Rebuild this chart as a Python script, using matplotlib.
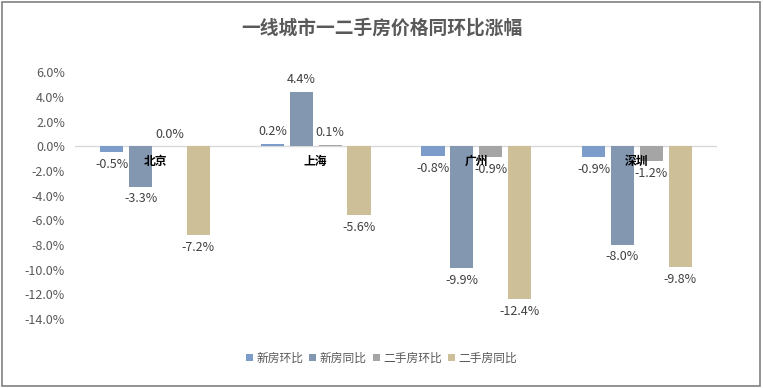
import numpy as np
import matplotlib
matplotlib.use("Agg")
import matplotlib.pyplot as plt
from matplotlib.patches import Rectangle

plt.rcParams["font.family"] = ["Noto Sans CJK SC", "DejaVu Sans"]

# ── Data ──────────────────────────────────────────────────────────────────────
CITIES = ["北京", "上海", "广州", "深圳"]
SERIES = ["新房环比", "新房同比", "二手房环比", "二手房同比"]
NEW_MOM = [-0.5, 0.2, -0.8, -0.9]
NEW_YOY = [-3.3, 4.4, -9.9, -8.0]
SEC_MOM = [0.0, 0.1, -0.9, -1.2]
SEC_YOY = [-7.2, -5.6, -12.4, -9.8]
Y_TICKS = [6, 4, 2, 0, -2, -4, -6, -8, -10, -12, -14]

COLORS = ["#7C9DC9", "#8497B0", "#A5A5A5", "#CDBF98"]
TEXT = "#404040"
GREY = "#595959"

fig = plt.figure(figsize=(7.63, 3.88), dpi=100)
ax = fig.add_axes([0.098, 0.178, 0.842, 0.636])

x = np.arange(len(CITIES))
step, width = 0.18, 0.144
values = [NEW_MOM, NEW_YOY, SEC_MOM, SEC_YOY]
for k, (vals, name, col) in enumerate(zip(values, SERIES, COLORS)):
    pos = x + (k - 1.5) * step
    ax.bar(pos, vals, width=width, color=col, label=name, zorder=2)
    for px, v in zip(pos, vals):
        if v >= 0:
            ax.annotate(f"{v:.1f}%", (px, v), xytext=(0, 4), textcoords="offset points",
                        ha="center", va="bottom", fontsize=9, color=TEXT)
        else:
            ax.annotate(f"{v:.1f}%", (px, v), xytext=(0, -4), textcoords="offset points",
                        ha="center", va="top", fontsize=9, color=TEXT)

# category labels sit just under the zero line
for xi, city in zip(x, CITIES):
    ax.text(xi, -1.2, city, ha="center", va="center", fontsize=8.5,
            fontweight="bold", color="black", zorder=3)

ax.axhline(0, color="#D9D9D9", lw=1, zorder=1)
ax.set_xlim(-0.5, len(CITIES) - 0.5)
ax.set_ylim(-14, 6)
ax.set_yticks(Y_TICKS)
ax.set_yticklabels([f"{t:.1f}%" for t in Y_TICKS], fontsize=9, color=GREY)
ax.set_xticks([])
ax.tick_params(axis="y", length=0, pad=7)
for s in ax.spines.values():
    s.set_visible(False)

fig.text(0.5, 0.928, "一线城市一二手房价格同环比涨幅", ha="center", va="center",
         fontsize=13.5, fontweight="bold", color=GREY)

fig.legend(loc="center", bbox_to_anchor=(0.5, 0.077), ncol=4, frameon=False,
           fontsize=8.5, handlelength=0.6, handleheight=0.6, handletextpad=0.3,
           columnspacing=0.5, labelcolor=GREY)

fig.patches.append(Rectangle((0.002, 0.004), 0.994, 0.99, transform=fig.transFigure,
                             fill=False, edgecolor="#808080", lw=1.2))

fig.savefig("out.png", dpi=100)
